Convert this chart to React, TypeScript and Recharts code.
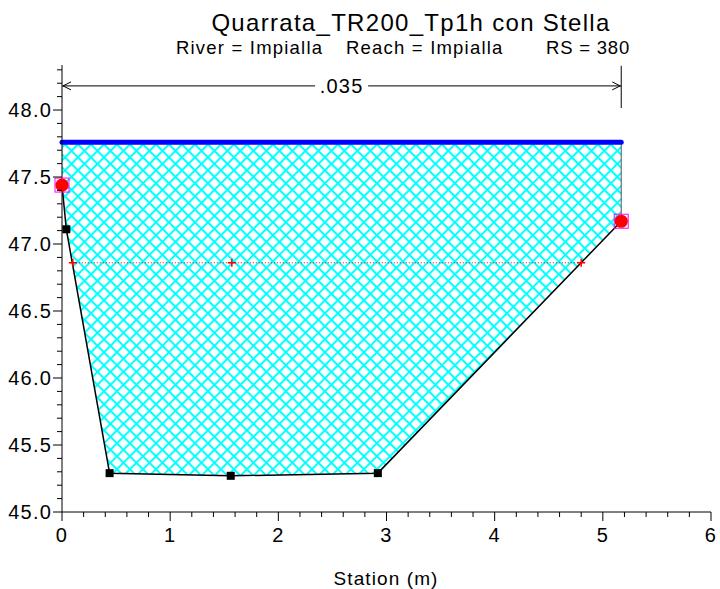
import { ComposedChart, Line, Area, Scatter, XAxis, YAxis, ReferenceLine, ReferenceDot } from 'recharts';

// cross section ground points
const groundStation = [0, 0.04, 0.44, 1.56, 2.92, 5.17];
const groundElev = [47.44, 47.11, 45.29, 45.27, 45.29, 47.17];

// water surface
const wsStation = [0, 5.17];
const wsElev = [47.76, 47.76];

// critical line + markers
const critStation = [0.1, 1.57, 4.8];
const critElev = [46.86, 46.86, 46.86];

// bank stations
const bankStation = [0, 5.17];
const bankElev = [47.44, 47.17];

// right wall between bank and water surface
const wallStation = [5.17, 5.17];
const wallElev = [47.17, 47.76];

// manning n band
const nLabels = ['.035'];
const nBandStart = 0;
const nBandEnd = 5.17;
const nBandElev = 48.18;

const xTicks = [0, 0.2, 0.4, 0.6, 0.8, 1, 1.2, 1.4, 1.6, 1.8, 2, 2.2, 2.4, 2.6, 2.8, 3, 3.2, 3.4, 3.6, 3.8, 4, 4.2, 4.4, 4.6, 4.8, 5, 5.2, 5.4, 5.6, 5.8, 6];
const yTicks = [45, 45.1, 45.2, 45.3, 45.4, 45.5, 45.6, 45.7, 45.8, 45.9, 46, 46.1, 46.2, 46.3, 46.4, 46.5, 46.6, 46.7, 46.8, 46.9, 47, 47.1, 47.2, 47.3, 47.4, 47.5, 47.6, 47.7, 47.8, 47.9, 48, 48.1, 48.2, 48.3];

const FONT = '"Liberation Sans", Arial, sans-serif';

const groundRows = groundStation.map((s, i) => ({ station: s, elev: groundElev[i], band: [groundElev[i], wsElev[0]] }));
const wsRows = wsStation.map((s, i) => ({ station: s, elev: wsElev[i] }));
const critRows = critStation.map((s, i) => ({ station: s, elev: critElev[i] }));
const bankRows = bankStation.map((s, i) => ({ station: s, elev: bankElev[i] }));
const wallRows = wallStation.map((s, i) => ({ station: s, elev: wallElev[i] }));
// interior ground points get black squares (ends are covered by bank markers)
const squareRows = groundRows.slice(1, -1);

const YTick = (props: any) => {
    const { x, y, payload } = props;
    const v = payload.value;
    const major = Math.abs(v * 2 - Math.round(v * 2)) < 1e-6;
    return (
        <g>
            <line x1={x - (major ? 9 : 5)} x2={x} y1={y} y2={y} stroke="#000" />
            {major && (
                <text x={x - 10} y={y + 7} textAnchor="end" fontFamily={FONT} fontSize={20} letterSpacing={1.2} fill="#000">
                    {v.toFixed(1)}
                </text>
            )}
        </g>
    );
};

const XTick = (props: any) => {
    const { x, y, payload } = props;
    const v = payload.value;
    const major = Math.abs(v - Math.round(v)) < 1e-6;
    return (
        <g>
            <line x1={x} x2={x} y1={y} y2={y + (major ? 9 : 5)} stroke="#000" />
            {major && (
                <text x={x} y={y + 30} textAnchor="middle" fontFamily={FONT} fontSize={20} letterSpacing={1.2} fill="#000">
                    {Math.round(v)}
                </text>
            )}
        </g>
    );
};

const Square = (props: any) => {
    const { cx, cy } = props;
    return <rect x={cx - 4} y={cy - 4} width={8} height={8} fill="#000" />;
};

const Bank = (props: any) => {
    const { cx, cy } = props;
    return (
        <g>
            <rect x={cx - 7} y={cy - 7} width={14} height={14} fill="none" stroke="#ff00ff" strokeWidth={1} />
            <circle cx={cx} cy={cy} r={6.6} fill="#ff0000" />
        </g>
    );
};

const Plus = (props: any) => {
    const { cx, cy } = props;
    return (
        <g stroke="#ff0000" strokeWidth={1.5}>
            <line x1={cx - 4} x2={cx + 4} y1={cy} y2={cy} />
            <line x1={cx} x2={cx} y1={cy - 4} y2={cy + 4} />
        </g>
    );
};

export default function App() {
    return (
        <div style={{ position: 'absolute', left: 0, top: 0, width: 720, height: 589, background: '#fff' }}>
            <ComposedChart
                width={720}
                height={589}
                data={groundRows}
                margin={{ top: 65, right: 9, bottom: 37, left: 0 }}
            >
                <defs>
                    <pattern id="hatch" patternUnits="userSpaceOnUse" width={9.19} height={9.19} patternTransform="rotate(45)">
                        <rect x={0} y={0} width={9.19} height={9.19} fill="#fff" />
                        <rect x={0} y={0} width={9.19} height={2} fill="#00ffff" />
                        <rect x={0} y={0} width={2} height={9.19} fill="#00ffff" />
                    </pattern>
                </defs>
                <XAxis
                    dataKey="station"
                    type="number"
                    domain={[0, 6]}
                    ticks={xTicks}
                    interval={0}
                    height={40}
                    tickSize={0}
                    tickMargin={0}
                    tickLine={false}
                    axisLine={{ stroke: '#000' }}
                    tick={<XTick />}
                />
                <YAxis
                    type="number"
                    domain={[45, 48.336]}
                    ticks={yTicks}
                    interval={0}
                    width={62}
                    tickSize={0}
                    tickMargin={0}
                    tickLine={false}
                    axisLine={{ stroke: '#000' }}
                    tick={<YTick />}
                    allowDataOverflow
                />
                <Area
                    dataKey="band"
                    type="linear"
                    fill="url(#hatch)"
                    fillOpacity={1}
                    stroke="none"
                    isAnimationActive={false}
                />
                <Line data={wallRows} dataKey="elev" type="linear" stroke="#555" strokeWidth={1} dot={false} isAnimationActive={false} />
                <Line data={critRows} dataKey="elev" type="linear" stroke="#ff0000" strokeWidth={1} strokeDasharray="1 2" dot={false} isAnimationActive={false} />
                <Line dataKey="elev" type="linear" stroke="#000" strokeWidth={1.5} dot={false} isAnimationActive={false} />
                <Line data={wsRows} dataKey="elev" type="linear" stroke="#0000ff" strokeWidth={5} strokeLinecap="round" dot={false} isAnimationActive={false} />
                <Scatter data={squareRows} dataKey="elev" shape={<Square />} isAnimationActive={false} />
                <Scatter data={critRows} dataKey="elev" shape={<Plus />} isAnimationActive={false} />
                <Scatter data={bankRows} dataKey="elev" shape={<Bank />} isAnimationActive={false} />

                {/* manning n band */}
                <ReferenceLine segment={[{ x: nBandStart, y: nBandElev }, { x: 2.34, y: nBandElev }]} stroke="#000" />
                <ReferenceLine segment={[{ x: 2.83, y: nBandElev }, { x: nBandEnd, y: nBandElev }]} stroke="#000" />
                <ReferenceLine segment={[{ x: nBandEnd, y: 48.33 }, { x: nBandEnd, y: 48.015 }]} stroke="#000" />
                <ReferenceDot
                    x={nBandStart}
                    y={nBandElev}
                    r={0}
                    shape={(p: any) => (
                        <polyline points={`${p.cx + 9},${p.cy - 4} ${p.cx + 1},${p.cy} ${p.cx + 9},${p.cy + 4}`} fill="none" stroke="#000" />
                    )}
                />
                <ReferenceDot
                    x={nBandEnd}
                    y={nBandElev}
                    r={0}
                    shape={(p: any) => (
                        <polyline points={`${p.cx - 9},${p.cy - 4} ${p.cx - 1},${p.cy} ${p.cx - 9},${p.cy + 4}`} fill="none" stroke="#000" />
                    )}
                />
                <ReferenceDot
                    x={(nBandStart + nBandEnd) / 2}
                    y={nBandElev}
                    r={0}
                    shape={(p: any) => (
                        <text x={p.cx} y={p.cy + 7} textAnchor="middle" fontFamily={FONT} fontSize={20} letterSpacing={1.2} fill="#000">
                            {nLabels[0]}
                        </text>
                    )}
                />
            </ComposedChart>
            <svg width={720} height={589} style={{ position: 'absolute', left: 0, top: 0, pointerEvents: 'none' }}>
                <text x={411} y={31} textAnchor="middle" fontFamily={FONT} fontSize={24} letterSpacing={1.3} fill="#000">
                    Quarrata_TR200_Tp1h con Stella
                </text>
                <text x={176} y={54} fontFamily={FONT} fontSize={18.5} letterSpacing={1.2} fill="#000">River = Impialla</text>
                <text x={346} y={54} fontFamily={FONT} fontSize={18.5} letterSpacing={1.2} fill="#000">Reach = Impialla</text>
                <text x={546} y={54} fontFamily={FONT} fontSize={18.5} letterSpacing={0.8} fill="#000">RS = 380</text>
                <text x={386} y={585} textAnchor="middle" fontFamily={FONT} fontSize={19} letterSpacing={1.1} fill="#000">
                    Station (m)
                </text>
            </svg>
        </div>
    );
}
